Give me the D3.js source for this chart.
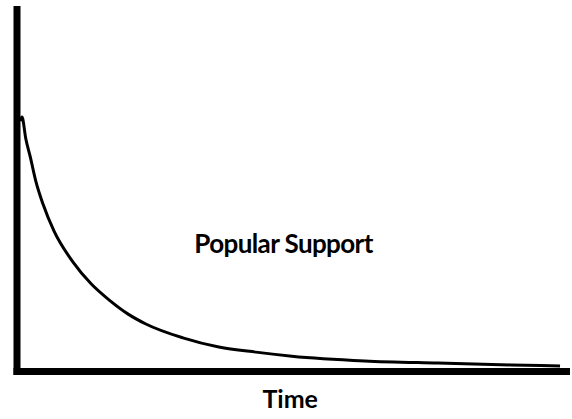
<!DOCTYPE html>
<html>
<head>
<meta charset="utf-8">
<script src="https://cdn.jsdelivr.net/npm/d3@7.9.0/dist/d3.min.js"></script>
<style>
  html, body { margin: 0; padding: 0; background: #fff; }
  svg { display: block; }
</style>
</head>
<body>
<svg id="chart" width="572" height="419"></svg>
<script>
// time (0-100) and popular support (0-100)
const timeVals = [0.6, 0.9, 1.6, 2.4, 3.4, 4.7, 6.7, 10.1, 13.4, 16.8, 20.1, 23.3, 30.0, 36.5, 43.2, 49.7, 62.9, 76.1, 89.3, 98.2];
const supportVals = [68.5, 69.6, 63.6, 58.7, 52.1, 45.8, 38.4, 30.0, 24.0, 19.4, 15.7, 13.0, 9.2, 6.7, 5.3, 4.2, 2.9, 2.3, 1.8, 1.5];
const seriesLabel = "Popular Support";
const xAxisLabel = "Time";

const svg = d3.select("#chart");
const margin = { top: 6, right: 2, bottom: 47.5, left: 17 };
const width = +svg.attr("width") - margin.left - margin.right;
const height = +svg.attr("height") - margin.top - margin.bottom;

const g = svg.append("g")
    .attr("transform", `translate(${margin.left},${margin.top})`);

const x = d3.scaleLinear().domain([0, 100]).range([0, width]);
const y = d3.scaleLinear().domain([0, 100]).range([height, 0]);

const data = timeVals.map((t, i) => ({ t, s: supportVals[i] }));

// axes: plain thick black lines, no ticks
g.append("line")
    .attr("x1", x(0)).attr("x2", x(0))
    .attr("y1", y(100)).attr("y2", y(0) + 3.5)
    .attr("stroke", "#000")
    .attr("stroke-width", 7);
g.append("line")
    .attr("x1", x(0) - 3.5).attr("x2", x(100))
    .attr("y1", y(0)).attr("y2", y(0))
    .attr("stroke", "#000")
    .attr("stroke-width", 7);

// the support curve
const line = d3.line()
    .x(d => x(d.t))
    .y(d => y(d.s))
    .curve(d3.curveMonotoneX);

g.append("path")
    .datum(data)
    .attr("fill", "none")
    .attr("stroke", "#000")
    .attr("stroke-width", 3)
    .attr("stroke-linejoin", "round")
    .attr("d", line);

// labels
g.append("text")
    .attr("x", x(48.2))
    .attr("y", y(32.5))
    .attr("text-anchor", "middle")
    .attr("font-family", "Lato, 'Open Sans', sans-serif")
    .attr("font-weight", "bold")
    .attr("font-size", 26)
    .attr("letter-spacing", -0.6)
    .attr("fill", "#000")
    .text(seriesLabel);

g.append("text")
    .attr("x", x(49.4))
    .attr("y", height + 36)
    .attr("text-anchor", "middle")
    .attr("font-family", "Lato, 'Open Sans', sans-serif")
    .attr("font-weight", "bold")
    .attr("font-size", 25)
    .attr("fill", "#000")
    .text(xAxisLabel);
</script>
</body>
</html>
